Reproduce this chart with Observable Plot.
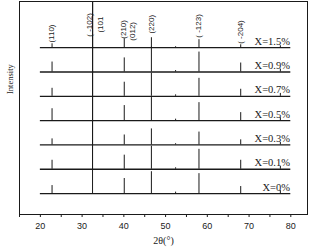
<!DOCTYPE html>
<html><head><meta charset="utf-8">
<script src="https://cdn.jsdelivr.net/npm/d3@7"></script>
<script src="https://cdn.jsdelivr.net/npm/@observablehq/plot@0.6"></script>
<style>body{margin:0;background:#fff}</style>
</head><body><div id="chart"></div>
<script>
// Samples from bottom to top
const samples = ["X=0%", "X=0.1%", "X=0.3%", "X=0.5%", "X=0.7%", "X=0.9%", "X=1.5%"];
// Peak positions (2θ, degrees)
const peakPositions = [22.8, 32.5, 40.1, 46.6, 52.4, 58.0, 68.0, 77.5];
// Peak intensities (a.u., series offset = 100)
const int_0  = [33, 1000, 62, 90, 6, 82, 29, 12];
const int_01 = [37, 1000, 58, 95, 6, 82, 37, 12];
const int_03 = [25, 1000, 41, 66, 5, 53, 21, 10];
const int_05 = [49, 1000, 62, 95, 6, 74, 33, 12];
const int_07 = [33, 1000, 58, 95, 6, 74, 29, 12];
const int_09 = [41, 1000, 58, 103, 6, 82, 37, 12];
const int_15 = [16, 1000, 37, 41, 4, 33, 12, 8];
const intensities = [int_0, int_01, int_03, int_05, int_07, int_09, int_15];
const offsetStep = 100;
const scanRange = [20, 80];
// Miller index annotations
const hkl  = ["(110)", "( -102)", "(101", "(210)", "(012)", "(220)", "( -123)", "( -204)"];
const hklX = [22.6, 31.7, 34.4, 39.8, 42.0, 46.6, 57.9, 68.0];
const hklY = [621, 645, 662, 637, 629, 658, 641, 616];
// Axis ticks
const majorTicks = [20, 30, 40, 50, 60, 70, 80];
const minorTicks = [15, 25, 35, 45, 55, 65, 75];

const baselines = samples.map((s, i) => ({sample: s, y: i * offsetStep, x1: scanRange[0], x2: scanRange[1]}));
const peaks = [];
intensities.forEach((arr, i) => arr.forEach((h, j) => peaks.push({x: peakPositions[j], y1: i * offsetStep, y2: i * offsetStep + h})));
const labels = hkl.map((t, i) => ({t, x: hklX[i], y: hklY[i]}));

const ink = "#1a1a1a";
const chart = Plot.plot({
  width: 312, height: 250,
  marginLeft: 19, marginRight: 5, marginTop: 1, marginBottom: 36,
  style: {background: "#fff", color: ink},
  x: {domain: [15, 84]},
  y: {domain: [-86, 790], axis: null},
  marks: [
    Plot.ruleY(baselines, {y: "y", x1: "x1", x2: "x2", stroke: ink, strokeWidth: 1.3}),
    Plot.ruleX(peaks, {x: "x", y1: "y1", y2: "y2", stroke: ink, strokeWidth: 1, clip: true}),
    Plot.text(labels, {x: "x", y: "y", text: "t", rotate: -90, textAnchor: "start", fontSize: 8, fontFamily: "Liberation Sans, Arial, sans-serif", fill: ink}),
    Plot.text(baselines, {x: 79.8, y: "y", text: "sample", textAnchor: "end", lineAnchor: "bottom", dy: -3, fontSize: 10.5, fontFamily: "Liberation Serif, Times New Roman, serif", fill: ink}),
    Plot.axisX({ticks: majorTicks, tickSize: 3, tickPadding: 5, fontSize: 9, fontFamily: "Liberation Sans, Arial, sans-serif", label: null}),
    Plot.axisX({ticks: minorTicks, tickSize: 3, tickFormat: () => "", label: null}),
    Plot.text(["2θ(°)"], {frameAnchor: "bottom", dy: 29, fontSize: 10, fontFamily: "Liberation Serif, Times New Roman, serif", fill: ink}),
    Plot.text(["Intensity"], {frameAnchor: "left", dx: -9, dy: -14, rotate: -90, fontSize: 8.5, fontFamily: "Liberation Serif, Times New Roman, serif", fill: ink}),
    Plot.frame({stroke: ink, strokeWidth: 1})
  ]
});
document.getElementById("chart").appendChild(chart);
</script>
</body></html>
